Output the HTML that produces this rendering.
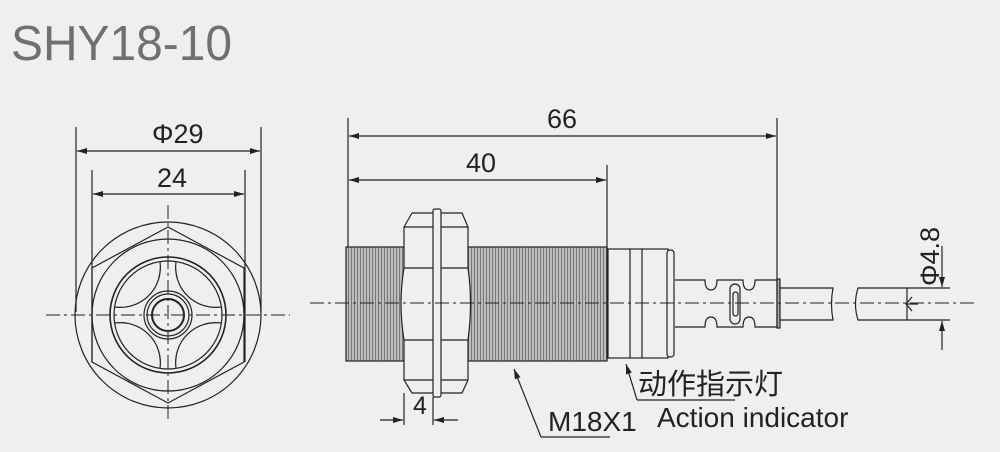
<!DOCTYPE html>
<html><head><meta charset="utf-8"><style>
html,body{margin:0;padding:0;background:#efefef;}
svg{display:block;}
text{font-family:"Liberation Sans","Noto Sans CJK SC",sans-serif;fill:#222;}
</style></head><body>
<svg width="1000" height="452" viewBox="0 0 1000 452" xmlns="http://www.w3.org/2000/svg">
<defs>
<pattern id="thr" width="3" height="10" patternUnits="userSpaceOnUse">
<rect width="3" height="10" fill="#bdbdbd"/><rect width="1" height="10" fill="#777"/>
</pattern>
<marker id="ar" viewBox="0 0 10 6" refX="10" refY="3" markerWidth="14" markerHeight="6" markerUnits="userSpaceOnUse" orient="auto-start-reverse"><path d="M0,0L10,3L0,6z" fill="#222"/></marker>
</defs>
<rect width="1000" height="452" fill="#efefef"/>
<text x="11" y="60" font-size="49" textLength="221" lengthAdjust="spacingAndGlyphs" style="fill:#707070">SHY18-10</text>

<g stroke="#222" fill="none" stroke-width="1.2">
<line x1="76" y1="127" x2="76" y2="312"/><line x1="261" y1="127" x2="261" y2="312"/>
<line x1="92" y1="170" x2="92" y2="362"/><line x1="245" y1="170" x2="245" y2="362"/>
<line x1="77" y1="151" x2="260" y2="151" marker-start="url(#ar)" marker-end="url(#ar)"/>
<line x1="93" y1="194" x2="244" y2="194" marker-start="url(#ar)" marker-end="url(#ar)"/>
<circle cx="168" cy="315" r="93"/>
<polygon points="168,227 244,268 244,362 168,403 92,362 92,268"/>
<circle cx="168" cy="315" r="76"/>
<circle cx="168" cy="315" r="58" stroke-width="1.6"/>
<circle cx="168" cy="315" r="54"/>
<circle cx="168" cy="315" r="24"/>
<circle cx="168" cy="315" r="21"/>
<circle cx="168" cy="315" r="16" stroke-width="2"/>
<path d="M160,262 A40,40 0 0 1 115,307 M176,262 A40,40 0 0 0 221,307 M160,368 A40,40 0 0 0 115,323 M176,368 A40,40 0 0 1 221,323"/>
<g stroke-dasharray="14,4,3,4" stroke-width="1"><line x1="46" y1="315" x2="290" y2="315"/><line x1="168" y1="205" x2="168" y2="420"/></g>

<line x1="348" y1="118" x2="348" y2="247"/><line x1="607" y1="165" x2="607" y2="249"/><line x1="777" y1="118" x2="777" y2="280"/>
<line x1="349" y1="136" x2="776" y2="136" marker-start="url(#ar)" marker-end="url(#ar)"/>
<line x1="349" y1="180" x2="606" y2="180" marker-start="url(#ar)" marker-end="url(#ar)"/>
<line x1="404" y1="393" x2="404" y2="425"/><line x1="433" y1="397" x2="433" y2="425"/>
<line x1="380" y1="420" x2="403" y2="420" marker-end="url(#ar)"/><line x1="458" y1="420" x2="434" y2="420" marker-end="url(#ar)"/>
</g>
<g stroke="#222" stroke-width="1.2">
<rect x="346" y="247" width="60" height="114" fill="url(#thr)"/>
<rect x="466" y="247" width="141" height="114" fill="url(#thr)"/>
<g fill="none">
<path d="M412,213 L404,227 L404,268 Q398,303 404,340 L404,380 L412,393 L433,393 M412,213 L433,213" fill="#efefef"/>
<path d="M441,213 L462,213 L468,227 L468,268 Q473,303 468,340 L468,380 L462,393 L441,393" fill="#efefef"/>
<path d="M404,227 L433,227 M404,380 L433,380 M441,227 L468,227 M441,380 L468,380 M404,268 L433,268 M404,340 L433,340 M441,268 L468,268 M441,340 L468,340"/>
<rect x="433" y="209" width="8" height="188" rx="2" fill="#efefef"/>
<rect x="608" y="249" width="60" height="109" fill="#efefef"/>
<line x1="630" y1="249" x2="630" y2="358"/><line x1="642" y1="249" x2="642" y2="358"/>
<rect x="667" y="250" width="7" height="107" rx="3" fill="#efefef"/>
<path d="M675,280 L705,280 Q705,290 711,290 Q717,290 717,280 L743,280 Q743,290 749,290 Q755,290 755,280 L777,280 L777,327 L755,327 Q755,317 749,317 Q743,317 743,327 L717,327 Q717,317 711,317 Q705,317 705,327 L675,327"/>
<rect x="730" y="284" width="10" height="40" rx="5"/>
<rect x="733" y="292" width="5" height="24" rx="2.5"/>
<rect x="777" y="279" width="3" height="49" fill="#aaa"/>
<path d="M780,288 L833,288 Q830,304 833,320 L780,320"/>
<path d="M907,288 L858,288 Q853,304 858,320 L907,320 Z"/>
<line x1="907" y1="288" x2="950" y2="288"/><line x1="907" y1="320" x2="950" y2="320"/>
<line x1="942" y1="246" x2="942" y2="287" marker-end="url(#ar)"/>
<line x1="942" y1="350" x2="942" y2="321" marker-end="url(#ar)"/>
<path d="M912,297 L906,304 L912,311 M906,304 L918,304"/>
<line x1="541" y1="437" x2="514" y2="369" marker-end="url(#ar)"/>
<line x1="541" y1="437" x2="610" y2="437"/>
<line x1="637" y1="400" x2="626" y2="364" marker-end="url(#ar)"/>
<line x1="637" y1="400" x2="735" y2="400"/>
</g>
</g>
<line x1="310" y1="303" x2="975" y2="303" stroke="#222" stroke-width="1" stroke-dasharray="14,4,3,4"/>

<text x="152" y="143" font-size="27">Φ29</text>
<text x="157" y="187" font-size="27">24</text>
<text x="547" y="128" font-size="27">66</text>
<text x="466" y="172" font-size="27">40</text>
<text x="413" y="414" font-size="25">4</text>
<text x="548" y="431" font-size="28">M18X1</text>
<text x="638" y="394" font-size="29">动作指示灯</text>
<text x="657" y="427" font-size="28">Action indicator</text>
<text transform="translate(939,286) rotate(-90)" font-size="27">Φ4.8</text>
</svg>
</body></html>
